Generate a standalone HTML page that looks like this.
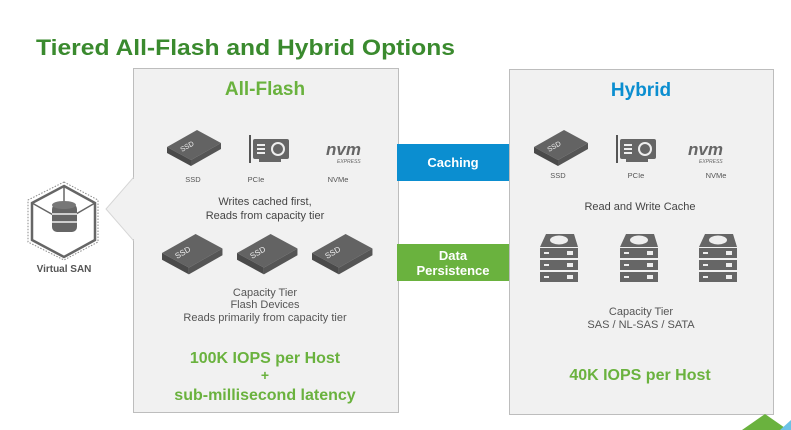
<!DOCTYPE html>
<html><head><meta charset="utf-8"><style>
html,body{margin:0;padding:0;background:#fff;width:791px;height:430px;overflow:hidden}
svg{display:block;font-family:"Liberation Sans",Arial,sans-serif}
</style></head><body>
<svg width="791" height="430" viewBox="0 0 791 430" xmlns="http://www.w3.org/2000/svg">
<defs>
<g id="ssd">
 <polygon points="0,17 30,0 54,13 24,30" fill="#636363"/>
 <polygon points="0,17 24,30 24,36 0,23" fill="#4a4a4a"/>
 <polygon points="24,30 54,13 54,19 24,36" fill="#555"/>
</g>
<g id="hdd">
 <rect x="0" y="14" width="38" height="10" fill="#666"/>
 <rect x="0" y="26" width="38" height="10" fill="#666"/>
 <rect x="0" y="38" width="38" height="10" fill="#666"/>
 <polygon points="6,0 34,0 38,13 0,13" fill="#666"/>
 <ellipse cx="19" cy="6" rx="9" ry="4.5" fill="#eee"/>
 <rect x="4" y="18" width="5" height="2" fill="#eee"/><rect x="27" y="17" width="6" height="4" fill="#eee"/>
 <rect x="4" y="30" width="5" height="2" fill="#eee"/><rect x="27" y="29" width="6" height="4" fill="#eee"/>
 <rect x="4" y="42" width="5" height="2" fill="#eee"/><rect x="27" y="41" width="6" height="4" fill="#eee"/>
</g>
<g id="pcie">
 <rect x="0" y="0" width="2" height="28" fill="#555"/>
 <rect x="4" y="4" width="36" height="20" rx="2" fill="#666"/>
 <rect x="8" y="9" width="8" height="2" fill="#eee"/><rect x="8" y="13" width="8" height="2" fill="#eee"/><rect x="8" y="17" width="8" height="2" fill="#eee"/>
 <circle cx="29" cy="14" r="6" fill="none" stroke="#eee" stroke-width="2"/>
 <rect x="10" y="24" width="22" height="3" fill="#666"/>
</g>
</defs>

<text x="36" y="55" font-size="22" font-weight="bold" fill="#3a8a2e" textLength="419" lengthAdjust="spacingAndGlyphs">Tiered All-Flash and Hybrid Options</text>

<!-- panels -->
<rect x="133.5" y="68.5" width="265" height="344" fill="#f1f1f1" stroke="#bdbdbd"/>
<rect x="509.5" y="69.5" width="264" height="345" fill="#f1f1f1" stroke="#bdbdbd"/>
<polygon points="133,178 106,209 133,240" fill="#f1f1f1" stroke="#d6d6d6"/>
<line x1="133.5" y1="179" x2="133.5" y2="239" stroke="#f1f1f1" stroke-width="2"/>

<text x="265" y="95" font-size="19" font-weight="bold" fill="#6ab23e" text-anchor="middle">All-Flash</text>
<text x="641" y="96" font-size="19" font-weight="bold" fill="#0b8ed0" text-anchor="middle">Hybrid</text>

<!-- caching/persistence -->
<rect x="397" y="144" width="112" height="37" fill="#0b8ed0"/>
<text x="453" y="167" font-size="13" font-weight="bold" fill="#fff" text-anchor="middle">Caching</text>
<rect x="397" y="244" width="112" height="37" fill="#6ab23e"/>
<text x="453" y="260" font-size="13" font-weight="bold" fill="#fff" text-anchor="middle">Data</text>
<text x="453" y="275" font-size="13" font-weight="bold" fill="#fff" text-anchor="middle">Persistence</text>

<!-- virtual SAN -->
<polygon points="64,182 98,200 98,242 64,260 28,242 28,200" fill="none" stroke="#888" stroke-dasharray="1.5,1.5"/>
<polygon points="64,186 95,203 95,240 64,257 32,240 32,203" fill="none" stroke="#666" stroke-width="2.5"/>
<path d="M64,186 L64,221 M32,203 L64,221 L95,203" stroke="#666" stroke-width="1.5" fill="none"/>
<rect x="52" y="204" width="25" height="28" rx="5" fill="#666"/>
<ellipse cx="64" cy="205" rx="12" ry="4" fill="#777"/>
<line x1="52" y1="214" x2="77" y2="214" stroke="#f1f1f1" stroke-width="1.5"/>
<line x1="52" y1="222" x2="77" y2="222" stroke="#f1f1f1" stroke-width="1.5"/>
<text x="64" y="272" font-size="10" font-weight="bold" fill="#555" text-anchor="middle">Virtual SAN</text>

<!-- All-flash cache icons -->
<use href="#ssd" x="167" y="130"/>
<text font-size="7" fill="#eee" transform="translate(182,152) rotate(-30)">SSD</text>
<use href="#pcie" x="249" y="135"/>
<text x="326" y="155" font-size="17" font-weight="bold" font-style="italic" fill="#666">nvm</text>
<text x="337" y="163" font-size="5" font-style="italic" fill="#666">EXPRESS</text>
<text x="193" y="182" font-size="7.5" fill="#555" text-anchor="middle">SSD</text>
<text x="256" y="182" font-size="7.5" fill="#555" text-anchor="middle">PCIe</text>
<text x="338" y="182" font-size="7.5" fill="#555" text-anchor="middle">NVMe</text>
<text x="265" y="205" font-size="11" fill="#444" text-anchor="middle">Writes cached first,</text>
<text x="265" y="219" font-size="11" fill="#444" text-anchor="middle">Reads from capacity tier</text>

<use href="#ssd" x="162" y="234" transform="translate(162,234) scale(1.12) translate(-162,-234)"/>
<use href="#ssd" x="237" y="234" transform="translate(237,234) scale(1.12) translate(-237,-234)"/>
<use href="#ssd" x="312" y="234" transform="translate(312,234) scale(1.12) translate(-312,-234)"/>
<text font-size="8" fill="#eee" transform="translate(177,259) rotate(-30)">SSD</text>
<text font-size="8" fill="#eee" transform="translate(252,259) rotate(-30)">SSD</text>
<text font-size="8" fill="#eee" transform="translate(327,259) rotate(-30)">SSD</text>

<text x="265" y="296" font-size="11" fill="#555" text-anchor="middle">Capacity Tier</text>
<text x="265" y="308" font-size="11" fill="#555" text-anchor="middle">Flash Devices</text>
<text x="265" y="321" font-size="11" fill="#555" text-anchor="middle">Reads primarily from capacity tier</text>
<text x="265" y="363" font-size="16" font-weight="bold" fill="#6ab23e" text-anchor="middle">100K IOPS per Host</text>
<text x="265" y="380" font-size="14" font-weight="bold" fill="#6ab23e" text-anchor="middle">+</text>
<text x="265" y="400" font-size="16" font-weight="bold" fill="#6ab23e" text-anchor="middle">sub-millisecond  latency</text>

<!-- Hybrid -->
<use href="#ssd" x="534" y="130"/>
<text font-size="7" fill="#eee" transform="translate(549,152) rotate(-30)">SSD</text>
<use href="#pcie" x="616" y="135"/>
<text x="688" y="155" font-size="17" font-weight="bold" font-style="italic" fill="#666">nvm</text>
<text x="699" y="163" font-size="5" font-style="italic" fill="#666">EXPRESS</text>
<text x="558" y="178" font-size="7.5" fill="#555" text-anchor="middle">SSD</text>
<text x="636" y="178" font-size="7.5" fill="#555" text-anchor="middle">PCIe</text>
<text x="716" y="178" font-size="7.5" fill="#555" text-anchor="middle">NVMe</text>
<text x="640" y="210" font-size="11" fill="#444" text-anchor="middle">Read and Write Cache</text>

<use href="#hdd" x="540" y="234"/>
<use href="#hdd" x="620" y="234"/>
<use href="#hdd" x="699" y="234"/>

<text x="641" y="315" font-size="11" fill="#555" text-anchor="middle">Capacity Tier</text>
<text x="641" y="328" font-size="11" fill="#555" text-anchor="middle">SAS  / NL-SAS  / SATA</text>
<text x="640" y="380" font-size="16" font-weight="bold" fill="#6ab23e" text-anchor="middle">40K IOPS per Host</text>

<!-- corner triangles -->
<polygon points="742,430 765,414 788,430" fill="#6ab23e"/>
<polygon points="780,430 791,420 791,430" fill="#6cc2e6"/>
</svg>
</body></html>
